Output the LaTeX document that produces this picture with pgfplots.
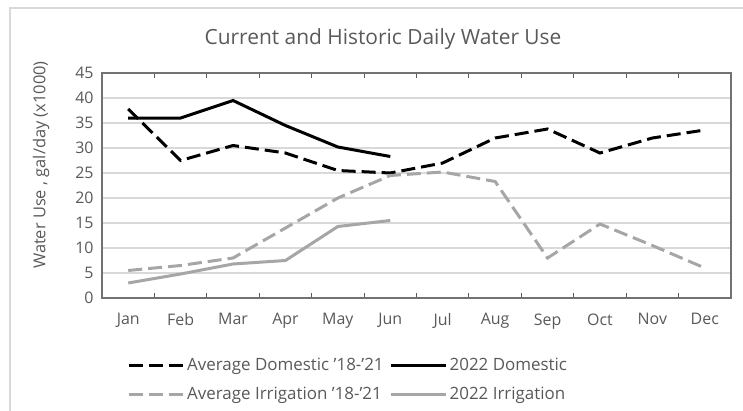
\documentclass[border=0pt]{standalone}
\usepackage{pgfplots}
\pgfplotsset{compat=1.18}
\usepackage{fontspec}
\setmainfont{Open Sans}
\definecolor{txt}{HTML}{595959}
\definecolor{grd}{HTML}{D9D9D9}
\definecolor{irr}{HTML}{A6A6A6}
\begin{document}
\begin{tikzpicture}[x=1bp,y=1bp]
\useasboundingbox (0bp,0bp) rectangle (743bp,411bp);
\draw[grd, line width=1.5bp] (10bp,0bp) -- (10bp,403bp) -- (743bp,403bp);
\node[text=txt, font=\fontsize{21}{24}\selectfont] at (383bp,372bp) {Current and Historic Daily Water Use};
\node[text=txt, font=\fontsize{16.5}{18}\selectfont, rotate=90] at (41bp,246bp) {Water Use , gal/day (x1000)};
\begin{axis}[
  at={(102bp,113bp)}, anchor=south west,
  width=629bp, height=225bp, scale only axis,
  xmin=-0.5, xmax=11.5, ymin=0, ymax=45,
  xtick={0,...,11},
  xticklabels={Jan,Feb,Mar,Apr,May,Jun,Jul,Aug,Sep,Oct,Nov,Dec},
  minor xtick={0.5,1.5,...,10.5},
  major tick length=0pt,
  minor tick length=5bp,
  minor tick style={txt, line width=1bp},
  ytick={0,5,...,45},
  ymajorgrids, grid style={grd, line width=1.5bp},
  axis line style={txt!85, line width=1.5bp},
  tick label style={text=txt, font=\fontsize{16}{18}\selectfont},
  /pgf/number format/assume math mode=true,
  yticklabel style={xshift=-5bp},
  xticklabel style={yshift=-12bp},
  legend columns=2,
  legend style={at={(axis description cs:0.035,-0.25)}, anchor=north west, draw=none, fill=none,
    font=\fontsize{17}{19}\selectfont, text=txt,
    /tikz/every even column/.append style={column sep=4bp},
    row sep=11bp},
  legend cell align=left,
  legend image code/.code={\draw[#1] (0bp,0bp) -- (55bp,0bp);},
]
\addplot[black, line width=3bp, dash pattern=on 14bp off 6bp] coordinates {
(0,37.8) (1,27.5) (2,30.5) (3,29) (4,25.5) (5,25) (6,27) (7,32) (8,33.8) (9,29) (10,32) (11,33.6)};
\addlegendentry{Average Domestic '18-'21}
\addplot[black, line width=3bp] coordinates {
(0,36) (1,36) (2,39.5) (3,34.5) (4,30.2) (5,28.3)};
\addlegendentry{2022 Domestic}
\addplot[irr, line width=3bp, dash pattern=on 14bp off 6bp] coordinates {
(0,5.5) (1,6.5) (2,8) (3,14) (4,20) (5,24.5) (6,25.2) (7,23.3) (8,8) (9,14.8) (10,10.5) (11,6)};
\addlegendentry{Average Irrigation '18-'21}
\addplot[irr, line width=3bp] coordinates {
(0,3) (1,4.8) (2,6.8) (3,7.5) (4,14.3) (5,15.5)};
\addlegendentry{2022 Irrigation}
\end{axis}
\end{tikzpicture}
\end{document}
